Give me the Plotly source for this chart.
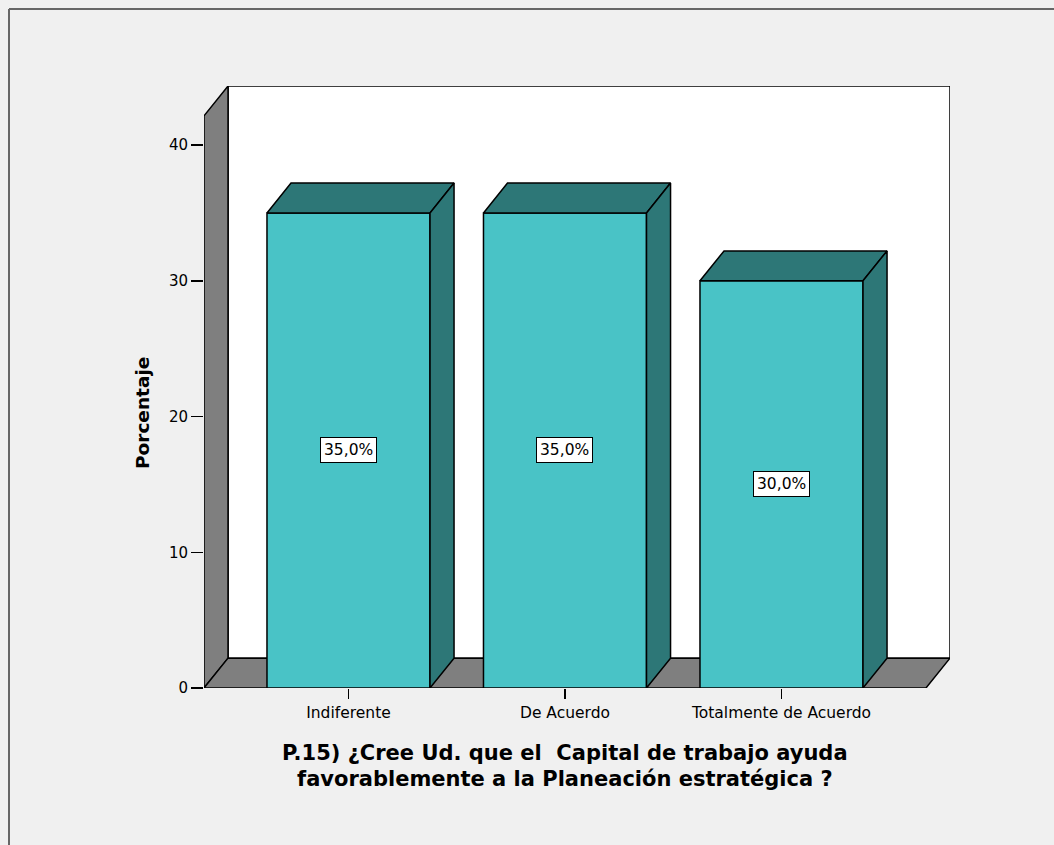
import plotly.graph_objects as go

categories = ["Indiferente", "De Acuerdo", "Totalmente de Acuerdo"]
values = [35.0, 35.0, 30.0]
labels = ["35,0%", "35,0%", "30,0%"]
y_ticks = [0, 10, 20, 30, 40]
title_lines = ["P.15) ¿Cree Ud. que el  Capital de trabajo ayuda",
               "favorablemente a la Planeación estratégica ?"]
y_title = "Porcentaje"

FONT = "DejaVu Sans, Arial, sans-serif"
FRONT = "#49C3C6"
DARK = "#2D7777"
WALL = "#7F7F7F"
BG = "#F0F0F0"

# geometry (axis units)
XMIN, XMAX = -0.6674, 2.7783
YMAX = 44.35
DX, DY = 0.111, 2.2
BW = 0.753

L, R, T, B = 204, 950, 86, 688  # plot area in screen pixels
W, H = 1054, 845


def px(x):
    return (x - L) / (R - L)


def py(y):
    return (B - y) / (B - T)


xs = list(range(len(categories)))

fig = go.Figure()

# front faces
fig.add_trace(go.Bar(x=xs, y=values, width=BW,
                     marker=dict(color=FRONT, line=dict(color="black", width=1.5)),
                     hoverinfo="skip", showlegend=False))

# top and side faces
for x, v in zip(xs, values):
    l, r = x - BW / 2, x + BW / 2
    fig.add_trace(go.Scatter(x=[l, l + DX, r + DX, r, l], y=[v, v + DY, v + DY, v, v], fill="toself",
                             fillcolor=DARK, mode="lines", line=dict(color="black", width=1.5),
                             hoverinfo="skip", showlegend=False))
    fig.add_trace(go.Scatter(x=[r, r, r + DX, r + DX, r], y=[0, v, v + DY, DY, 0], fill="toself",
                             fillcolor=DARK, mode="lines", line=dict(color="black", width=1.5),
                             hoverinfo="skip", showlegend=False))

shapes = [
    # back wall
    dict(type="rect", xref="x", yref="y", x0=XMIN + DX, x1=XMAX, y0=DY, y1=YMAX,
         fillcolor="white", line=dict(color="black", width=1.5), layer="below"),
    # left wall
    dict(type="path", xref="x", yref="y",
         path=f"M {XMIN},0 L {XMIN},{YMAX - DY} L {XMIN + DX},{YMAX} L {XMIN + DX},{DY} Z",
         fillcolor=WALL, line=dict(color="black", width=1.5), layer="below"),
    # floor
    dict(type="path", xref="x", yref="y",
         path=f"M {XMIN},0 L {XMAX - DX},0 L {XMAX},{DY} L {XMIN + DX},{DY} Z",
         fillcolor=WALL, line=dict(color="black", width=1.5), layer="below"),
    # outer frame
    dict(type="line", xref="paper", yref="paper", x0=px(9), x1=px(1070), y0=py(9), y1=py(9),
         line=dict(color="#666666", width=2)),
    dict(type="line", xref="paper", yref="paper", x0=px(9), x1=px(9), y0=py(9), y1=py(870),
         line=dict(color="#666666", width=2)),
]

annotations = []
for x, v, t in zip(xs, values, labels):
    annotations.append(dict(x=x, y=v / 2, xref="x", yref="y", text=t, showarrow=False,
                            font=dict(family=FONT, size=15.5, color="black"),
                            bgcolor="white", bordercolor="black", borderwidth=1, borderpad=3))

for line, yc in zip(title_lines, [753, 779]):
    annotations.append(dict(x=1.0, xref="x", y=py(yc), yref="paper", xanchor="center", yanchor="middle",
                            text=f"<b>{line}</b>", showarrow=False,
                            font=dict(family=FONT, size=21, color="black")))
annotations.append(dict(x=px(143), y=py(413), xref="paper", yref="paper", xanchor="center", yanchor="middle",
                        text=f"<b>{y_title}</b>", textangle=-90, showarrow=False,
                        font=dict(family=FONT, size=18.5, color="black")))

fig.update_layout(
    width=W, height=H,
    margin=dict(l=L, r=W - R, t=T, b=H - B, pad=0),
    paper_bgcolor=BG, plot_bgcolor=BG,
    shapes=shapes, annotations=annotations,
    bargap=0,
    xaxis=dict(range=[XMIN, XMAX], tickvals=xs, ticktext=categories, ticks="outside", ticklen=10,
               tickwidth=1.5, tickcolor="black", showgrid=False, zeroline=False, showline=False,
               tickfont=dict(family=FONT, size=15.5, color="black"), fixedrange=True),
    yaxis=dict(range=[0, YMAX], tickvals=y_ticks, ticks="outside", ticklen=12, tickwidth=1.5,
               tickcolor="black", showgrid=False, zeroline=False, showline=False,
               tickfont=dict(family=FONT, size=15, color="black"), fixedrange=True),
)

fig.write_html("out.html",
               config={"displayModeBar": False, "staticPlot": True},
               post_script="document.body.style.margin='0';document.body.style.overflow='hidden';"
                           "document.body.style.background='#F0F0F0';")
